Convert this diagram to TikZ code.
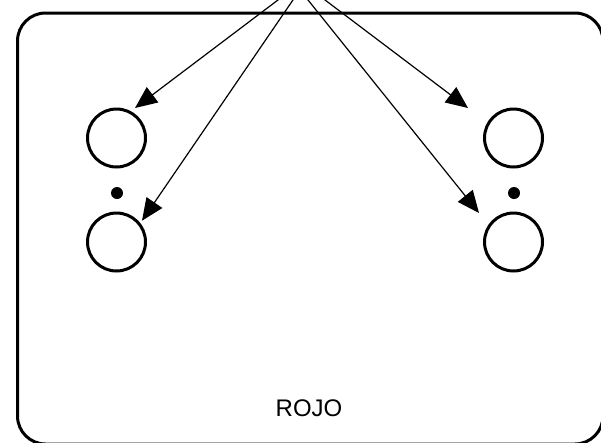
\documentclass[tikz,border=0pt]{standalone}
\usepackage{fontspec}
\setmainfont{Liberation Sans}
\usetikzlibrary{arrows.meta}
\begin{document}
\begin{tikzpicture}[x=1pt,y=-1pt,
  frame/.style={draw=black,line width=3pt,rounded corners=28pt},
  port/.style={circle,draw=black,line width=3pt,minimum size=58pt,inner sep=0pt},
  dotmark/.style={circle,fill=black,minimum size=12pt,inner sep=0pt},
  link/.style={draw=black,line width=1.2pt,-{Triangle[length=22pt,width=19pt]}},
  label/.style={font=\fontsize{24}{29}\selectfont,inner sep=0pt}]
\useasboundingbox (0,0) rectangle (601,442);
\draw[frame] (17.5,13) rectangle (603,444);
\node[port] (lt) at (116.5,138) {};
\node[port] (lb) at (116.5,242) {};
\node[port] (rt) at (513.5,138) {};
\node[port] (rb) at (513.5,242) {};
\node[dotmark] (ld) at (117,193) {};
\node[dotmark] (rd) at (514,193) {};
\node[label,anchor=base] (rojo) at (309,416) {ROJO};
\coordinate (s1) at (291.2,-10);
\coordinate (s2) at (299.8,-10);
\coordinate (s3) at (300,-10);
\coordinate (s4) at (311.8,-10);
\coordinate (t1) at (135,108);
\coordinate (t2) at (142,220.7);
\coordinate (t3) at (479,213);
\coordinate (t4) at (468,108);
\draw[link] (s1) -- (t1);
\draw[link] (s2) -- (t2);
\draw[link] (s3) -- (t3);
\draw[link] (s4) -- (t4);
\end{tikzpicture}
\end{document}
